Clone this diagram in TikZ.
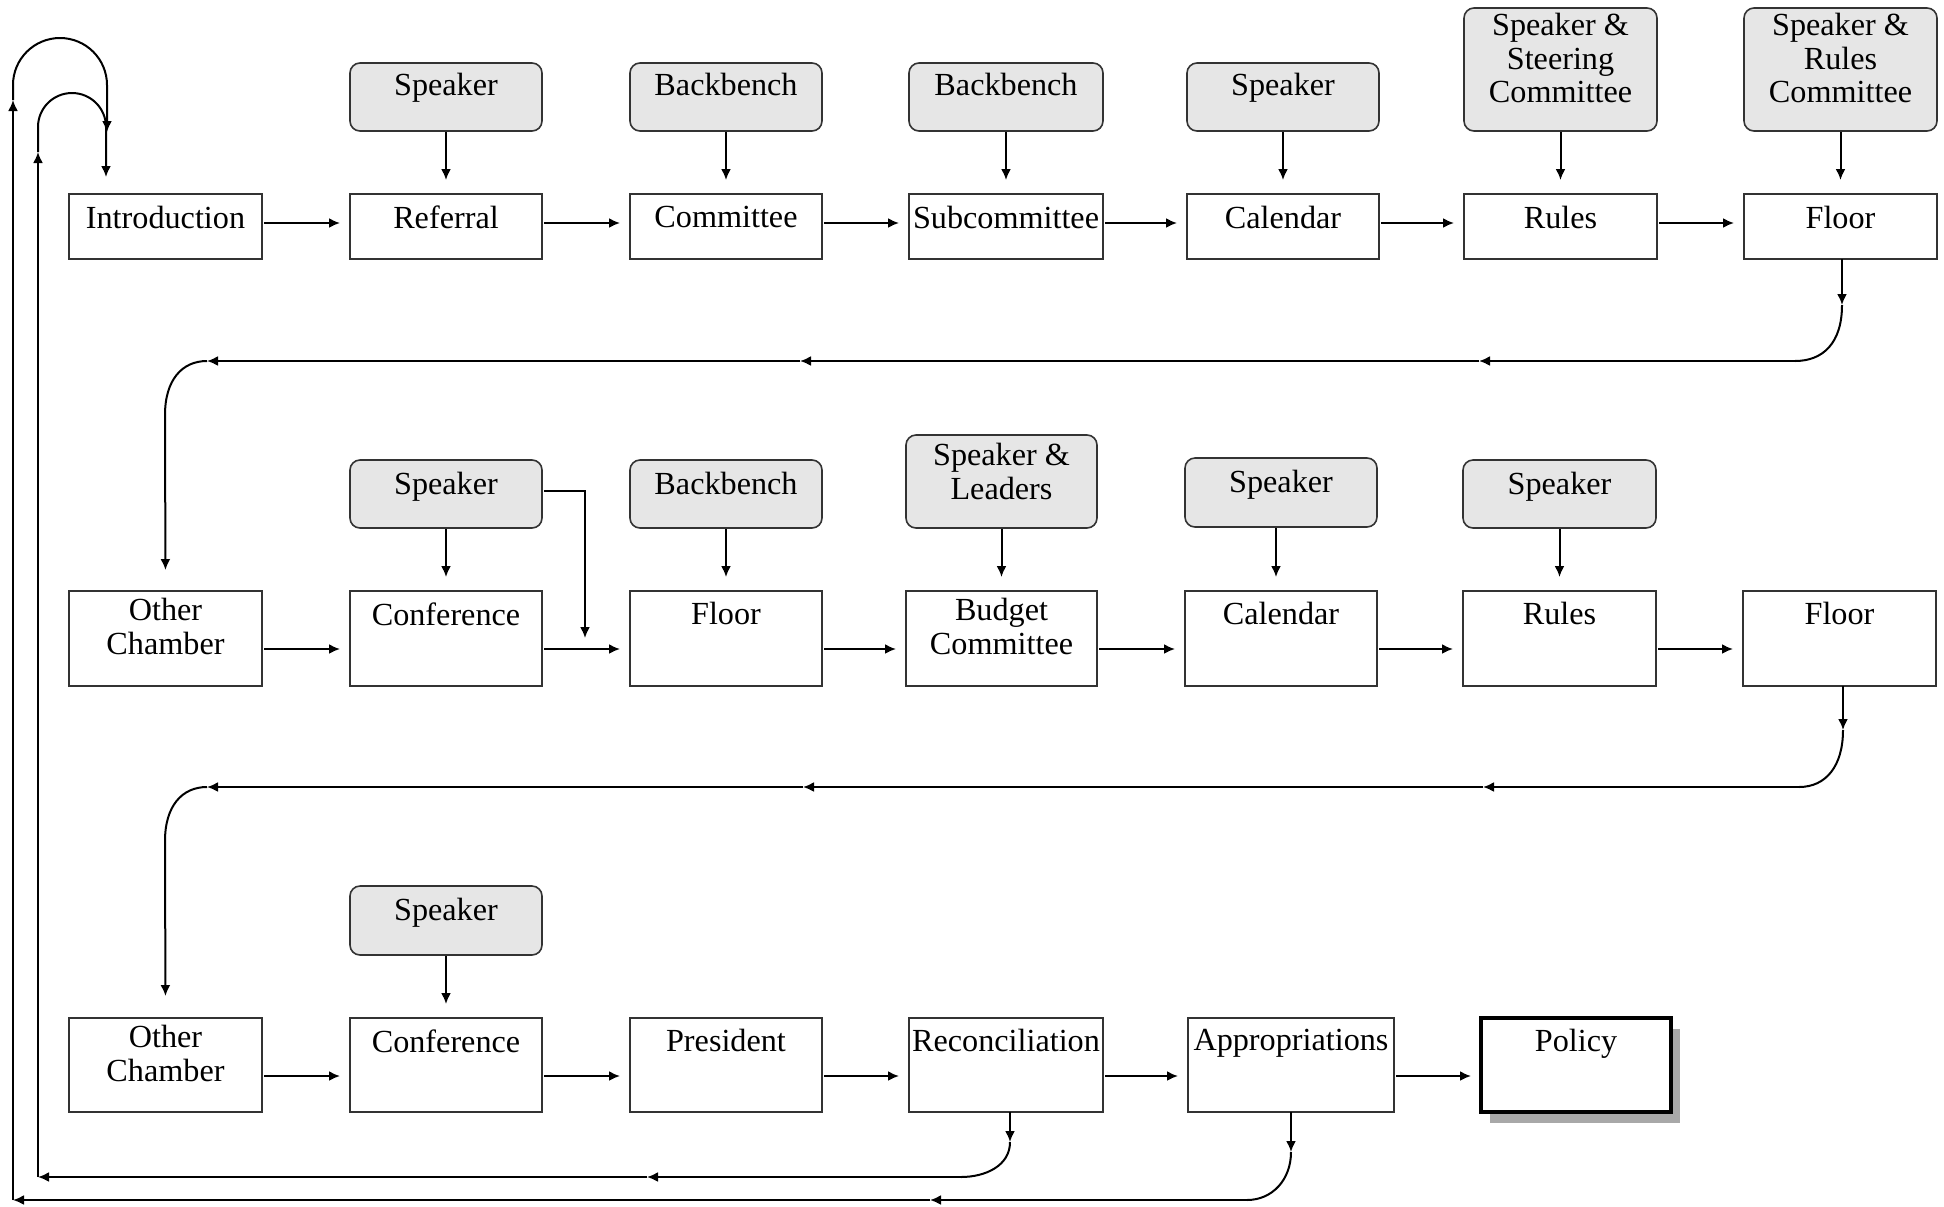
\documentclass[tikz,border=0pt]{standalone}
\usepackage{fontspec}
\setmainfont{Liberation Serif}
\usetikzlibrary{arrows.meta,calc,shadows}
\definecolor{gfill}{HTML}{E6E6E6}
\definecolor{shad}{HTML}{A8A8A8}
\newcommand{\mkbox}[8]{%
  \node[#1, anchor=north west, minimum width={(#5-#3)*0.5pt}, minimum height={(#6-#4)*0.5pt}] (#2) at (#3,#4) {};
  \node[txt, anchor=north] (#2t) at ($(#2.north)+(0,#7)$) {#8};
}
\newcommand{\harr}[3]{\draw[arr, shorten <=1pt, shorten >=5pt] ([yshift=#3]#1.east) -- ([yshift=#3]#2.west);}
\newcommand{\varr}[2]{\draw[arr, shorten <=0.5pt, shorten >=7pt] (#1.south) -- (#2.north);}
\begin{document}
\begin{tikzpicture}[x=0.5pt,y=-0.5pt,
  box/.style={draw=black!80, line width=0.8pt, fill=white, rectangle, inner sep=0pt, outer sep=0pt},
  gbox/.style={box, fill=gfill, rounded corners=5pt},
  pbox/.style={box, draw=black, line width=2pt, drop shadow={shadow xshift=4.5pt, shadow yshift=-5.5pt, fill=shad, opacity=1}},
  txt/.style={inner sep=0pt, outer sep=0pt, align=center, font=\fontsize{16.1pt}{16.75pt}\selectfont},
  arr/.style={line width=1pt, -{Latex[length=5.5pt,width=5pt]}},
  ln/.style={line width=1pt}]
\useasboundingbox (0,0) rectangle (1944,1206);
% ---------- row 1
\mkbox{box}{intro}{69}{194}{262}{259}{12}{Introduction}
\mkbox{box}{ref}{350}{194}{542}{259}{12}{Referral}
\mkbox{box}{com}{630}{194}{822}{259}{12}{Committee}
\mkbox{box}{sub}{909}{194}{1103}{259}{12}{Subcommittee}
\mkbox{box}{cal}{1187}{194}{1379}{259}{12}{Calendar}
\mkbox{box}{rul}{1464}{194}{1657}{259}{12}{Rules}
\mkbox{box}{flo}{1744}{194}{1937}{259}{12}{Floor}
\mkbox{gbox}{ga}{350}{63}{542}{131}{10.5}{Speaker}
\mkbox{gbox}{gb}{630}{63}{822}{131}{10.5}{Backbench}
\mkbox{gbox}{gc}{909}{63}{1103}{131}{10.5}{Backbench}
\mkbox{gbox}{gd}{1187}{63}{1379}{131}{10.5}{Speaker}
\mkbox{gbox}{ge}{1464}{8}{1657}{131}{5.5}{Speaker \&\\Steering\\Committee}
\mkbox{gbox}{gf}{1744}{8}{1937}{131}{5.5}{Speaker \&\\Rules\\Committee}
% ---------- row 2
\mkbox{box}{oc}{69}{591}{262}{686}{7.5}{Other\\Chamber}
\mkbox{box}{conf}{350}{591}{542}{686}{11.5}{Conference}
\mkbox{box}{flb}{630}{591}{822}{686}{11.5}{Floor}
\mkbox{box}{bud}{906}{591}{1097}{686}{7.5}{Budget\\Committee}
\mkbox{box}{calb}{1185}{591}{1377}{686}{11}{Calendar}
\mkbox{box}{rulb}{1463}{591}{1656}{686}{11.5}{Rules}
\mkbox{box}{flc}{1743}{591}{1936}{686}{11.5}{Floor}
\mkbox{gbox}{ha}{350}{460}{542}{528}{12}{Speaker}
\mkbox{gbox}{hb}{630}{460}{822}{528}{12}{Backbench}
\mkbox{gbox}{hc}{906}{435}{1097}{528}{8.5}{Speaker \&\\Leaders}
\mkbox{gbox}{hd}{1185}{458}{1377}{527}{12}{Speaker}
\mkbox{gbox}{he}{1463}{460}{1656}{528}{12}{Speaker}
% ---------- row 3
\mkbox{box}{ocb}{69}{1018}{262}{1112}{7.5}{Other\\Chamber}
\mkbox{box}{confb}{350}{1018}{542}{1112}{11.5}{Conference}
\mkbox{box}{pres}{630}{1018}{822}{1112}{11.5}{President}
\mkbox{box}{rec}{909}{1018}{1103}{1112}{11.5}{Reconciliation}
\mkbox{box}{app}{1188}{1018}{1394}{1112}{11.5}{Appropriations}
\mkbox{pbox}{pol}{1481}{1018}{1671}{1112}{11}{Policy}
\mkbox{gbox}{ka}{350}{886}{542}{955}{12}{Speaker}
% ---------- horizontal arrows
\harr{intro}{ref}{1.75pt}
\harr{ref}{com}{1.75pt}
\harr{com}{sub}{1.75pt}
\harr{sub}{cal}{1.75pt}
\harr{cal}{rul}{1.75pt}
\harr{rul}{flo}{1.75pt}
\harr{oc}{conf}{-5.25pt}
\harr{conf}{flb}{-5.25pt}
\harr{flb}{bud}{-5.25pt}
\harr{bud}{calb}{-5.25pt}
\harr{calb}{rulb}{-5.25pt}
\harr{rulb}{flc}{-5.25pt}
\harr{ocb}{confb}{-5.5pt}
\harr{confb}{pres}{-5.5pt}
\harr{pres}{rec}{-5.5pt}
\harr{rec}{app}{-5.5pt}
\harr{app}{pol}{-5.5pt}
% ---------- vertical arrows from actors
\varr{ga}{ref}
\varr{gb}{com}
\varr{gc}{sub}
\varr{gd}{cal}
\varr{ge}{rul}
\varr{gf}{flo}
\varr{ha}{conf}
\varr{hb}{flb}
\varr{hc}{bud}
\draw[arr, shorten <=0.5pt, shorten >=7pt] ([xshift=-2.5pt]hd.south) -- ([xshift=-2.5pt]calb.north);
\varr{he}{rulb}
\varr{ka}{confb}
% speaker (row 2) to floor
\coordinate (jn) at (585,638);
\draw[arr, shorten <=1pt] ([yshift=1.5pt]ha.east) -| (jn);
% ---------- row 1 -> row 2
\coordinate (d1) at ($(flo.south)+(1.5,46)$);
\coordinate (e1) at (1795,361);
\coordinate (m1) at (1479,361);
\coordinate (m2) at (800,361);
\coordinate (e2) at (207,361);
\draw[arr] ([xshift=0.75pt]flo.south) -- (d1);
\draw[ln] (d1) .. controls +(0,38) and +(28,0) .. (e1);
\draw[arr] (e1) -- (m1);
\draw[arr] (m1) -- (m2);
\draw[arr] (m2) -- (e2);
\draw[arr, shorten >=10.5pt] (e2) .. controls (182,361) and (165,380) .. (165,415) -- (oc.north);
% ---------- row 2 -> row 3
\coordinate (d2) at ($(flc.south)+(3.5,44)$);
\coordinate (e3) at (1799,787);
\coordinate (m3) at (1483,787);
\coordinate (m4) at (803,787);
\coordinate (e4) at (207,787);
\draw[arr] ([xshift=1.75pt]flc.south) -- (d2);
\draw[ln] (d2) .. controls +(0,36) and +(27,0) .. (e3);
\draw[arr] (e3) -- (m3);
\draw[arr] (m3) -- (m4);
\draw[arr] (m4) -- (e4);
\draw[arr, shorten >=11pt] (e4) .. controls (182,787) and (165,806) .. (165,841) -- (ocb.north);
% ---------- reconciliation loop (inner)
\coordinate (r1) at ($(rec.south)+(4,30)$);
\coordinate (r2) at (961,1177);
\coordinate (r3) at (647,1177);
\coordinate (r4) at (38,1177);
\coordinate (r5) at (38,152);
\coordinate (r6) at (106,177);
\draw[arr] ([xshift=2pt]rec.south) -- (r1);
\draw[ln] (r1) .. controls +(0,24) and +(24,0) .. (r2);
\draw[arr] (r2) -- (r3);
\draw[arr] (r3) -- (r4);
\draw[arr] (r4) -- (r5);
\draw[arr] (r5) -- (38,127) arc (180:360:34) -- (r6);
% ---------- appropriations loop (outer)
\coordinate (a1) at ($(app.south)+(0,40)$);
\coordinate (a2) at (1247,1200);
\coordinate (a3) at (930,1200);
\coordinate (a4) at (13,1200);
\coordinate (a5) at (13,100);
\coordinate (a6) at (107,132);
\draw[arr] (app.south) -- (a1);
\draw[ln] (a1) .. controls +(0,28) and +(25,0) .. (a2);
\draw[arr] (a2) -- (a3);
\draw[arr] (a3) -- (a4);
\draw[arr] (a4) -- (a5);
\draw[arr] (a5) -- (13,85) arc (180:360:47) -- (a6);
\end{tikzpicture}
\end{document}
